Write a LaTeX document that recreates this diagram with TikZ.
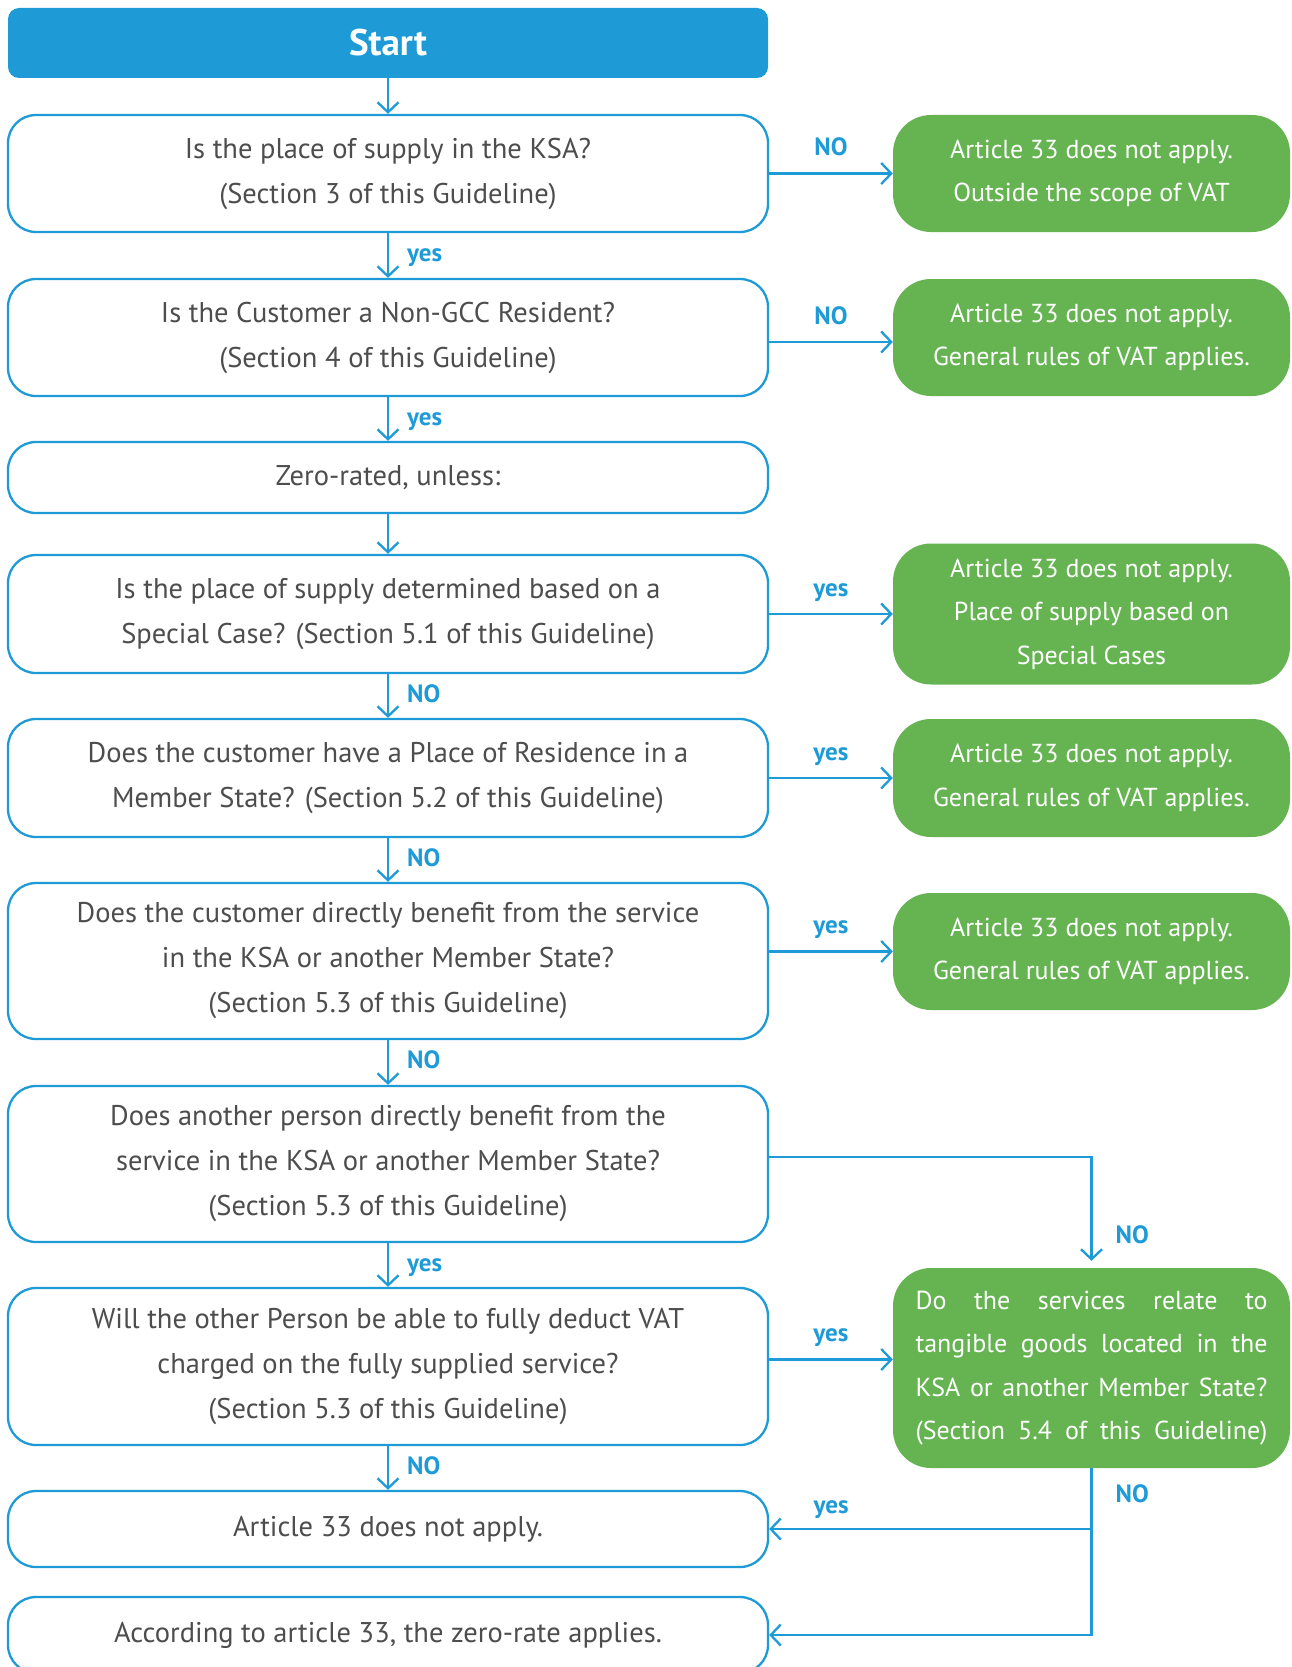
\documentclass[tikz,border=0pt]{standalone}
\usepackage{fontspec}
\setmainfont{PT Sans}
\usetikzlibrary{arrows.meta}
\definecolor{flowblue}{RGB}{30,155,215}
\definecolor{flowgreen}{RGB}{101,179,81}
\definecolor{flowgray}{RGB}{77,77,77}

\begin{document}
\begin{tikzpicture}[x=1pt,y=-1pt]
\tikzstyle{main}=[rectangle, rounded corners=28pt, draw=flowblue, line width=2.3pt, fill=white, minimum width=760pt, text=flowgray, align=center, inner sep=0pt, font=\fontsize{28.5}{45}\selectfont]
\tikzstyle{start}=[rectangle, rounded corners=11pt, fill=flowblue, minimum width=760pt, minimum height=70pt, text=white, font=\bfseries\fontsize{37}{42}\selectfont]
\tikzstyle{result}=[rectangle, rounded corners=38pt, fill=flowgreen, minimum width=397pt, text=white, align=center, inner sep=0pt, font=\fontsize{26}{43.5}\selectfont]
\tikzstyle{connect}=[-{Straight Barb[length=10pt,width=21pt]}, line width=2.3pt, draw=flowblue]
\tikzstyle{answer}=[text=flowblue, inner sep=0pt, font=\bfseries\fontsize{25}{28}\selectfont]
\useasboundingbox (0,0) rectangle (1292,1667);
\clip (0,0) rectangle (1292,1667);
  \node[start] (start) at (388,43) {Start};
  \node[main, minimum height=117pt] (q1) at (388,173.5) {Is the place of supply in the KSA?\\(Section 3 of this Guideline)};
  \node[main, minimum height=117pt] (q2) at (388,337.5) {Is the Customer a Non-GCC Resident?\\(Section 4 of this Guideline)};
  \node[main, minimum height=71pt] (zero) at (388,477.5) {Zero-rated, unless:};
  \node[main, minimum height=118pt] (q3) at (388,614) {Is the place of supply determined based on a\\Special Case? (Section 5.1 of this Guideline)};
  \node[main, minimum height=118pt] (q4) at (388,778) {Does the customer have a Place of Residence in a\\Member State? (Section 5.2 of this Guideline)};
  \node[main, minimum height=156pt] (q5) at (388,961) {Does the customer directly benefit from the service\\in the KSA or another Member State?\\(Section 5.3 of this Guideline)};
  \node[main, minimum height=156pt] (q6) at (388,1164) {Does another person directly benefit from the\\service in the KSA or another Member State?\\(Section 5.3 of this Guideline)};
  \node[main, minimum height=157pt] (q7) at (388,1366.5) {Will the other Person be able to fully deduct VAT\\charged on the fully supplied service?\\(Section 5.3 of this Guideline)};
  \node[main, minimum height=76pt] (a33) at (388,1529) {Article 33 does not apply.};
  \node[main, minimum height=76pt] (zr) at (388,1635) {According to article 33, the zero-rate applies.};

  \node[result, minimum height=117pt] (r1) at (1091.5,173.5) {Article 33 does not apply.\\Outside the scope of VAT};
  \node[result, minimum height=117pt] (r2) at (1091.5,337.5) {Article 33 does not apply.\\General rules of VAT applies.};
  \node[result, minimum height=141pt] (r3) at (1091.5,614) {Article 33 does not apply.\\Place of supply based on\\Special Cases};
  \node[result, minimum height=118pt] (r4) at (1091.5,778) {Article 33 does not apply.\\General rules of VAT applies.};
  \node[result, minimum height=117pt] (r5) at (1091.5,951.5) {Article 33 does not apply.\\General rules of VAT applies.};
  \node[result, minimum height=200pt] (r6) at (1091.5,1368) {\hbox to 352pt{Do\hfill the\hfill services\hfill relate\hfill to}\\\hbox to 352pt{tangible\hfill goods\hfill located\hfill in\hfill the}\\\hbox to 352pt{KSA\hfill or\hfill another\hfill Member\hfill State?}\\\hbox to 352pt{(Section\hfill 5.4\hfill of\hfill this\hfill Guideline)}};

  \coordinate (q2out) at ([yshift=-4.5pt]q2.east);
  \coordinate (q6out) at ([yshift=7pt]q6.east);
  \coordinate (q7out) at ([yshift=7pt]q7.east);
  \coordinate (r6in) at ([yshift=7pt]r6.north);
  \path
        (start) edge [connect] (q1)
        (q1) edge [connect] node[answer, anchor=base west, xshift=18pt, yshift=-6pt] {yes} (q2)
        (q2) edge [connect] node[answer, anchor=base west, xshift=18pt, yshift=-6pt] {yes} (zero)
        (zero) edge [connect] (q3)
        (q3) edge [connect] node[answer, anchor=base west, xshift=18pt, yshift=-6pt] {NO} (q4)
        (q4) edge [connect] node[answer, anchor=base west, xshift=18pt, yshift=-6pt] {NO} (q5)
        (q5) edge [connect] node[answer, anchor=base west, xshift=18pt, yshift=-6pt] {NO} (q6)
        (q6) edge [connect] node[answer, anchor=base west, xshift=18pt, yshift=-6pt] {yes} (q7)
        (q7) edge [connect] node[answer, anchor=base west, xshift=18pt, yshift=-6pt] {NO} (a33)
        (q1) edge [connect] node[answer, anchor=base, yshift=18pt] {NO} (r1)
        (q2out) edge [connect] node[answer, anchor=base, yshift=18pt] {NO} (q2out -| r2.west)
        (q3.east) edge [connect] node[answer, anchor=base, yshift=18pt] {yes} (q3.east -| r3.west)
        (q4) edge [connect] node[answer, anchor=base, yshift=18pt] {yes} (r4)
        (q5.east |- r5.west) edge [connect] node[answer, anchor=base, yshift=18pt] {yes} (r5.west)
        (q7out) edge [connect] node[answer, anchor=base, yshift=18pt] {yes} (q7out -| r6.west);
  \draw[connect] (q6out) -| (r6in);
  \draw[connect] (r6.south) |- (a33.east);
  \draw[connect] (r6.south) |- (zr.east);
  \node[answer, anchor=base west] (no1) at ([xshift=24pt, yshift=24pt]r6.north) {NO};
  \node[answer, anchor=base west] (no2) at ([xshift=24pt, yshift=-34pt]r6.south) {NO};
  \node[answer, anchor=base] (yes1) at ([xshift=62pt, yshift=16pt]a33.east) {yes};
\end{tikzpicture}
\end{document}
